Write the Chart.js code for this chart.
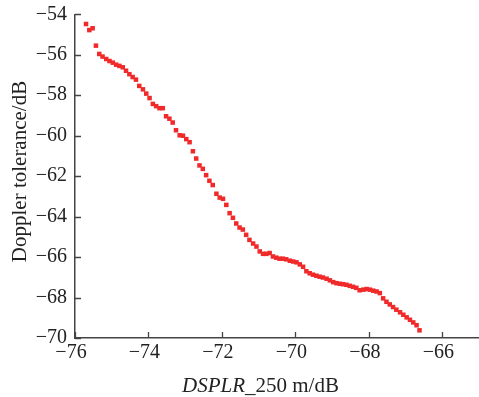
<!DOCTYPE html>
<html><head><meta charset="utf-8">
<script src="https://cdn.jsdelivr.net/npm/chart.js@4"></script>
<style>html,body{margin:0;padding:0;background:#fff}#wrap{width:479px;height:397px}</style>
</head><body><div id="wrap"><canvas id="c" width="479" height="397"></canvas></div>
<script>
const xValues = [
 -75.70,-75.61,-75.52,-75.43,-75.34,-75.25,-75.15,-75.06,-74.97,-74.88,
 -74.79,-74.70,-74.61,-74.52,-74.43,-74.34,-74.25,-74.15,-74.06,-73.97,
 -73.88,-73.79,-73.70,-73.61,-73.52,-73.43,-73.34,-73.25,-73.15,-73.06,
 -72.97,-72.88,-72.79,-72.70,-72.61,-72.52,-72.43,-72.34,-72.25,-72.15,
 -72.06,-71.97,-71.88,-71.79,-71.70,-71.61,-71.52,-71.43,-71.34,-71.25,
 -71.15,-71.06,-70.97,-70.88,-70.79,-70.70,-70.61,-70.52,-70.43,-70.34,
 -70.25,-70.15,-70.06,-69.97,-69.88,-69.79,-69.70,-69.61,-69.52,-69.43,
 -69.34,-69.25,-69.15,-69.06,-68.97,-68.88,-68.79,-68.70,-68.61,-68.52,
 -68.43,-68.34,-68.25,-68.15,-68.06,-67.97,-67.88,-67.79,-67.70,-67.61,
 -67.52,-67.43,-67.34,-67.25,-67.15,-67.06,-66.97,-66.88,-66.79,-66.70,
 -66.62];
const yValues = [
 -54.48,-54.78,-54.69,-55.55,-55.96,-56.09,-56.21,-56.31,-56.39,-56.49,
 -56.55,-56.62,-56.79,-56.96,-57.10,-57.23,-57.54,-57.71,-57.92,-58.14,
 -58.43,-58.54,-58.64,-58.64,-59.04,-59.16,-59.35,-59.73,-59.98,-60.00,
 -60.17,-60.32,-60.77,-61.13,-61.47,-61.64,-61.95,-62.23,-62.44,-62.87,
 -63.06,-63.12,-63.42,-63.83,-64.06,-64.34,-64.54,-64.64,-64.90,-65.15,
 -65.33,-65.48,-65.72,-65.84,-65.84,-65.80,-65.97,-66.03,-66.08,-66.08,
 -66.11,-66.18,-66.22,-66.26,-66.36,-66.48,-66.70,-66.80,-66.87,-66.92,
 -66.97,-67.01,-67.07,-67.15,-67.24,-67.29,-67.32,-67.34,-67.37,-67.42,
 -67.47,-67.52,-67.64,-67.61,-67.58,-67.61,-67.66,-67.70,-67.78,-68.04,
 -68.21,-68.34,-68.47,-68.60,-68.73,-68.85,-68.98,-69.10,-69.23,-69.37,
 -69.62];
const xTicks = [-76,-74,-72,-70,-68,-66];
const yTicks = [-54,-56,-58,-60,-62,-64,-66,-68,-70];
const xTitleItalic = 'DSPLR';
const xTitleRest = '_250 m/dB';
const yTitle = 'Doppler tolerance/dB';

const FONT = '"Liberation Serif", "Times New Roman", serif';
const fmt = v => (v < 0 ? '\u2212' : '') + Math.abs(v);

// do not reserve extra layout room for point markers
Chart.registry.getController('scatter').prototype.getMaxOverflow = function () { return false; };

const decor = {
  id: 'decor',
  afterDraw(chart) {
    const {ctx, chartArea, scales: {x, y}} = chart;
    ctx.save();
    ctx.strokeStyle = '#444';
    ctx.lineWidth = 1.3;
    ctx.beginPath();
    xTicks.forEach(v => {
      const px = Math.round(x.getPixelForValue(v)) + 0.5;
      ctx.moveTo(px, chartArea.bottom);
      ctx.lineTo(px, chartArea.bottom - 6);
    });
    yTicks.forEach(v => {
      const py = Math.round(y.getPixelForValue(v)) + 0.5;
      ctx.moveTo(chartArea.left, py);
      ctx.lineTo(chartArea.left + 6, py);
    });
    ctx.stroke();

    ctx.fillStyle = '#222';
    ctx.textBaseline = 'alphabetic';
    ctx.textAlign = 'left';
    ctx.font = 'italic 21px ' + FONT;
    const w1 = ctx.measureText(xTitleItalic).width;
    ctx.font = '21px ' + FONT;
    const w2 = ctx.measureText(xTitleRest).width;
    const x0 = 260.5 - (w1 + w2) / 2;
    ctx.font = 'italic 21px ' + FONT;
    ctx.fillText(xTitleItalic, x0, 392);
    ctx.font = '21px ' + FONT;
    ctx.fillText(xTitleRest, x0 + w1, 392);

    ctx.translate(26, 171.5);
    ctx.rotate(-Math.PI / 2);
    ctx.textAlign = 'center';
    ctx.fillText(yTitle, 0, 0);
    ctx.restore();
  }
};

new Chart(document.getElementById('c'), {
  type: 'scatter',
  data: {
    datasets: [{
      data: xValues.map((v, i) => ({x: v, y: yValues[i]})),
      pointStyle: 'rect',
      pointRadius: 3.2,
      pointHoverRadius: 3.2,
      backgroundColor: '#f02a2a',
      borderWidth: 0
    }]
  },
  options: {
    responsive: false,
    animation: false,
    devicePixelRatio: 1,
    layout: {padding: {top: 14.3, right: 0, left: 0, bottom: 0}},
    plugins: {legend: {display: false}, tooltip: {enabled: false}},
    scales: {
      x: {
        type: 'linear', min: -76, max: -65,
        afterBuildTicks: s => { s.ticks = xTicks.map(v => ({value: v})); },
        afterFit: s => { s.height = 59; s.paddingLeft = 0; s.paddingRight = 0; },
        ticks: {callback: fmt, color: '#222', font: {family: FONT, size: 20}, padding: 3, maxRotation: 0, labelOffset: -4},
        grid: {display: true, drawOnChartArea: false, drawTicks: false},
        border: {display: true, color: '#444', width: 1.5}
      },
      y: {
        type: 'linear', min: -70, max: -54,
        afterBuildTicks: s => { s.ticks = yTicks.map(v => ({value: v})); },
        afterFit: s => { s.width = 75; s.paddingTop = 0; s.paddingBottom = 0; },
        ticks: {callback: fmt, color: '#222', font: {family: FONT, size: 20}, padding: 8},
        grid: {display: true, drawOnChartArea: false, drawTicks: false},
        border: {display: true, color: '#444', width: 1.5}
      }
    }
  },
  plugins: [decor]
});
</script>
</body></html>
